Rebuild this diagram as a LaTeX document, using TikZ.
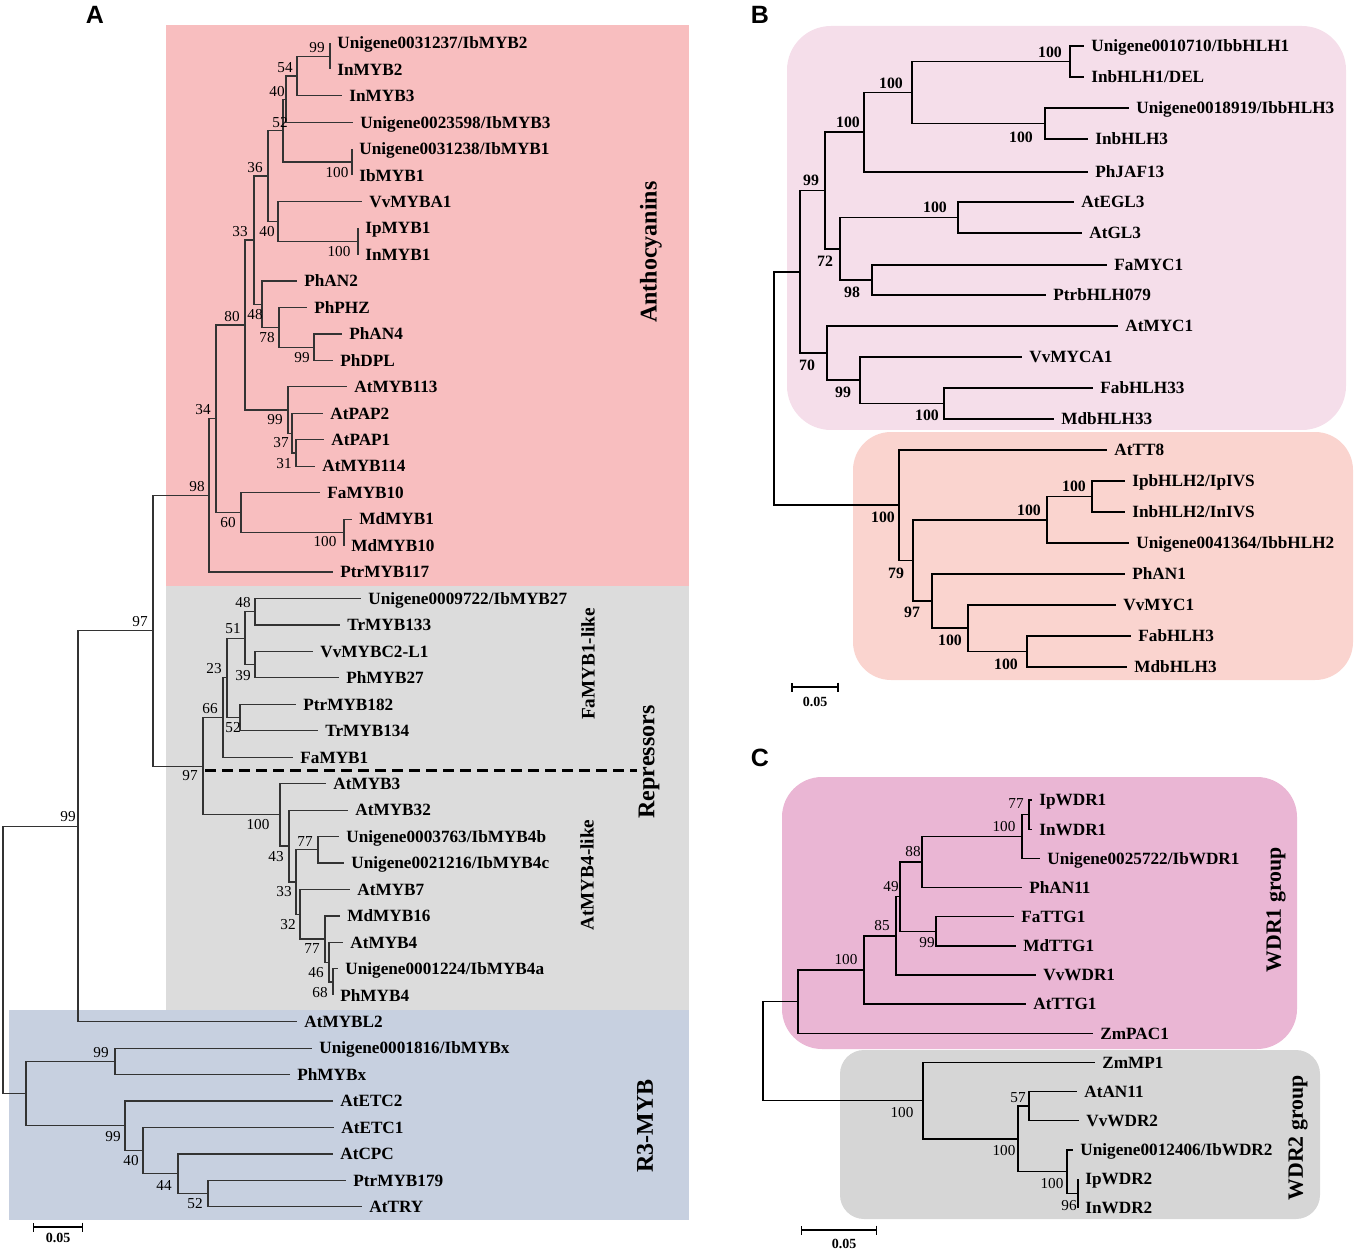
\documentclass[tikz,border=0pt]{standalone}
\usepackage{fontspec}
\setmainfont{Liberation Serif}
\newfontfamily\panelfont{Liberation Sans}
\usetikzlibrary{arrows.meta}

\definecolor{anthopink}{RGB}{248,190,191}
\definecolor{represgrey}{RGB}{220,220,220}
\definecolor{rthreeblue}{RGB}{199,208,224}
\definecolor{bhlhpink}{RGB}{245,222,234}
\definecolor{bhlhsalmon}{RGB}{250,212,207}
\definecolor{wdrpink}{RGB}{234,182,212}
\definecolor{wdrgrey}{RGB}{214,214,214}

\begin{document}
\begin{tikzpicture}[x=0.5pt,y=-0.5pt,
    br/.style={line width=0.6pt,draw=black!80},
    brB/.style={line width=0.9pt},
    brC/.style={line width=0.7pt},
    leaf/.style={anchor=west,inner xsep=3.5pt,inner ysep=0pt,text height=5.8pt,text depth=0pt,
      font=\bfseries\fontsize{8.6}{9}\selectfont},
    bs/.style={inner sep=0pt,font=\fontsize{7.6}{8}\selectfont},
    bsB/.style={inner sep=0pt,font=\bfseries\fontsize{7.9}{8}\selectfont},
    group/.style={rotate=90,inner sep=0pt,font=\bfseries\fontsize{12}{12}\selectfont},
    subgroup/.style={rotate=90,inner sep=0pt,font=\bfseries\fontsize{9.6}{10}\selectfont},
    wgroup/.style={rotate=90,inner sep=0pt,font=\bfseries\fontsize{10.9}{11}\selectfont},
    panel/.style={inner sep=0pt,font=\panelfont\bfseries\fontsize{12.5}{13}\selectfont},
    scalebar/.style={line width=0.6pt,{Bar[width=4.5pt]}-{Bar[width=4.5pt]}},
    scalelbl/.style={inner sep=0pt,font=\bfseries\fontsize{7}{7}\selectfont}]
    \useasboundingbox (0,0) rectangle (1354,1251);

    % panel A: MYB
    \fill[anthopink] (166,25) rectangle (689,586);
    \fill[represgrey] (166,586) rectangle (689,1010);
    \fill[rthreeblue] (9,1010) rectangle (689,1220);
    \node[panel] (pA) at (95,15) {A};

    \node[leaf] (uIbMYB2) at (330,43) {Unigene0031237/IbMYB2};
    \node[leaf] (InMYB2) at (330,69.5) {InMYB2};
    \node[leaf] (InMYB3) at (342,95.9) {InMYB3};
    \node[leaf] (uIbMYB3) at (353,122.4) {Unigene0023598/IbMYB3};
    \node[leaf] (uIbMYB1) at (352,148.8) {Unigene0031238/IbMYB1};
    \node[leaf] (IbMYB1) at (352,175.3) {IbMYB1};
    \node[leaf] (VvMYBA1) at (362,201.7) {VvMYBA1};
    \node[leaf] (IpMYB1) at (358,228.2) {IpMYB1};
    \node[leaf] (InMYB1) at (358,254.6) {InMYB1};
    \node[leaf] (PhAN2) at (297,281.1) {PhAN2};
    \node[leaf] (PhPHZ) at (307,307.5) {PhPHZ};
    \node[leaf] (PhAN4) at (342,334) {PhAN4};
    \node[leaf] (PhDPL) at (333,360.4) {PhDPL};
    \node[leaf] (AtMYB113) at (347,386.9) {AtMYB113};
    \node[leaf] (AtPAP2) at (323,413.3) {AtPAP2};
    \node[leaf] (AtPAP1) at (324,439.8) {AtPAP1};
    \node[leaf] (AtMYB114) at (315,466.2) {AtMYB114};
    \node[leaf] (FaMYB10) at (320,492.7) {FaMYB10};
    \node[leaf] (MdMYB1) at (352,519.1) {MdMYB1};
    \node[leaf] (MdMYB10) at (344,545.6) {MdMYB10};
    \node[leaf] (PtrMYB117) at (333,572) {PtrMYB117};
    \node[leaf] (uIbMYB27) at (361,598.5) {Unigene0009722/IbMYB27};
    \node[leaf] (TrMYB133) at (340,624.9) {TrMYB133};
    \node[leaf] (VvMYBC2L1) at (313,651.4) {VvMYBC2-L1};
    \node[leaf] (PhMYB27) at (339,677.8) {PhMYB27};
    \node[leaf] (PtrMYB182) at (296,704.3) {PtrMYB182};
    \node[leaf] (TrMYB134) at (318,730.7) {TrMYB134};
    \node[leaf] (FaMYB1) at (293,757.2) {FaMYB1};
    \node[leaf] (AtMYB3) at (326,783.6) {AtMYB3};
    \node[leaf] (AtMYB32) at (348,810.1) {AtMYB32};
    \node[leaf] (uIbMYB4b) at (339,836.5) {Unigene0003763/IbMYB4b};
    \node[leaf] (uIbMYB4c) at (344,863) {Unigene0021216/IbMYB4c};
    \node[leaf] (AtMYB7) at (350,889.4) {AtMYB7};
    \node[leaf] (MdMYB16) at (340,915.9) {MdMYB16};
    \node[leaf] (AtMYB4) at (343,942.3) {AtMYB4};
    \node[leaf] (uIbMYB4a) at (338,968.8) {Unigene0001224/IbMYB4a};
    \node[leaf] (PhMYB4) at (333,995.2) {PhMYB4};
    \node[leaf] (AtMYBL2) at (297,1021.7) {AtMYBL2};
    \node[leaf] (uIbMYBx) at (312,1048.1) {Unigene0001816/IbMYBx};
    \node[leaf] (PhMYBx) at (290,1074.6) {PhMYBx};
    \node[leaf] (AtETC2) at (333,1101) {AtETC2};
    \node[leaf] (AtETC1) at (334,1127.5) {AtETC1};
    \node[leaf] (AtCPC) at (333,1153.9) {AtCPC};
    \node[leaf] (PtrMYB179) at (346,1180.4) {PtrMYB179};
    \node[leaf] (AtTRY) at (362,1206.8) {AtTRY};

    \coordinate (a99) at (330,56.2);
    \coordinate (a54) at (297,76.1);
    \coordinate (a40) at (286,99.2);
    \coordinate (a100b) at (352,162);
    \coordinate (a52) at (283,130.6);
    \coordinate (a100c) at (358,241.4);
    \coordinate (a40b) at (278,221.6);
    \coordinate (a36) at (268,176.1);
    \coordinate (a99b) at (314,347.2);
    \coordinate (a78) at (279,327.3);
    \coordinate (a48) at (262,304.2);
    \coordinate (a33) at (254,240.1);
    \coordinate (a31) at (296,453);
    \coordinate (a37) at (292,433.1);
    \coordinate (a99c) at (288,410);
    \coordinate (a80) at (245,325);
    \coordinate (a100d) at (344,532.3);
    \coordinate (a60) at (241,512.5);
    \coordinate (a34) at (216,418.8);
    \coordinate (a98) at (209,495.4);
    \coordinate (a48r) at (255,611.7);
    \coordinate (a39) at (255,664.6);
    \coordinate (a51) at (245,638.1);
    \coordinate (a52r) at (240,717.5);
    \coordinate (a23) at (227,677.8);
    \coordinate (a66) at (223,717.5);
    \coordinate (a77a) at (318,849.7);
    \coordinate (a68) at (333,982);
    \coordinate (a46) at (329,962.1);
    \coordinate (a77b) at (325,939);
    \coordinate (a32) at (300,914.2);
    \coordinate (a33r) at (296,882);
    \coordinate (a43) at (289,846);
    \coordinate (a100r) at (280,814.8);
    \coordinate (a97b) at (203,766.2);
    \coordinate (a97t) at (153,630.8);
    \coordinate (a99r) at (78,826.2);
    \coordinate (r99) at (115,1061.3);
    \coordinate (r52) at (208,1193.6);
    \coordinate (r44) at (178,1173.7);
    \coordinate (r40) at (143,1150.6);
    \coordinate (r99b) at (125,1125.8);
    \coordinate (r0) at (26,1093.6);
    \coordinate (aroot) at (3,960);

    \draw[br] (a99) |- (uIbMYB2) (a99) |- (InMYB2);
    \draw[br] (a54) |- (a99) (a54) |- (InMYB3);
    \draw[br] (a40) |- (a54) (a40) |- (uIbMYB3);
    \draw[br] (a100b) |- (uIbMYB1) (a100b) |- (IbMYB1);
    \draw[br] (a52) |- (a40) (a52) |- (a100b);
    \draw[br] (a100c) |- (IpMYB1) (a100c) |- (InMYB1);
    \draw[br] (a40b) |- (VvMYBA1) (a40b) |- (a100c);
    \draw[br] (a36) |- (a52) (a36) |- (a40b);
    \draw[br] (a99b) |- (PhAN4) (a99b) |- (PhDPL);
    \draw[br] (a78) |- (PhPHZ) (a78) |- (a99b);
    \draw[br] (a48) |- (PhAN2) (a48) |- (a78);
    \draw[br] (a33) |- (a36) (a33) |- (a48);
    \draw[br] (a31) |- (AtPAP1) (a31) |- (AtMYB114);
    \draw[br] (a37) |- (AtPAP2) (a37) |- (a31);
    \draw[br] (a99c) |- (AtMYB113) (a99c) |- (a37);
    \draw[br] (a80) |- (a33) (a80) |- (a99c);
    \draw[br] (a100d) |- (MdMYB1) (a100d) |- (MdMYB10);
    \draw[br] (a60) |- (FaMYB10) (a60) |- (a100d);
    \draw[br] (a34) |- (a80) (a34) |- (a60);
    \draw[br] (a98) |- (a34) (a98) |- (PtrMYB117);
    \draw[br] (a48r) |- (uIbMYB27) (a48r) |- (TrMYB133);
    \draw[br] (a39) |- (VvMYBC2L1) (a39) |- (PhMYB27);
    \draw[br] (a51) |- (a48r) (a51) |- (a39);
    \draw[br] (a52r) |- (PtrMYB182) (a52r) |- (TrMYB134);
    \draw[br] (a23) |- (a51) (a23) |- (a52r);
    \draw[br] (a66) |- (a23) (a66) |- (FaMYB1);
    \draw[br] (a77a) |- (uIbMYB4b) (a77a) |- (uIbMYB4c);
    \draw[br] (a68) |- (uIbMYB4a) (a68) |- (PhMYB4);
    \draw[br] (a46) |- (AtMYB4) (a46) |- (a68);
    \draw[br] (a77b) |- (MdMYB16) (a77b) |- (a46);
    \draw[br] (a32) |- (AtMYB7) (a32) |- (a77b);
    \draw[br] (a33r) |- (a77a) (a33r) |- (a32);
    \draw[br] (a43) |- (AtMYB32) (a43) |- (a33r);
    \draw[br] (a100r) |- (AtMYB3) (a100r) |- (a43);
    \draw[br] (a97b) |- (a66) (a97b) |- (a100r);
    \draw[br] (a97t) |- (a98) (a97t) |- (a97b);
    \draw[br] (a99r) |- (a97t) (a99r) |- (AtMYBL2);
    \draw[br] (r99) |- (uIbMYBx) (r99) |- (PhMYBx);
    \draw[br] (r52) |- (PtrMYB179) (r52) |- (AtTRY);
    \draw[br] (r44) |- (AtCPC) (r44) |- (r52);
    \draw[br] (r40) |- (AtETC1) (r40) |- (r44);
    \draw[br] (r99b) |- (AtETC2) (r99b) |- (r40);
    \draw[br] (r0) |- (r99) (r0) |- (r99b);
    \draw[br] (aroot) |- (a99r) (aroot) |- (r0);

    \node[bs] (ba99) at (317,48) {99};
    \node[bs] (ba54) at (285,68) {54};
    \node[bs] (ba40) at (277,92) {40};
    \node[bs] (ba52) at (280,123) {52};
    \node[bs] (ba100b) at (337,173) {100};
    \node[bs] (ba36) at (255,168) {36};
    \node[bs] (ba40b) at (267,232) {40};
    \node[bs] (ba33) at (240,232) {33};
    \node[bs] (ba100c) at (339,252) {100};
    \node[bs] (ba48) at (255,315) {48};
    \node[bs] (ba78) at (267,338) {78};
    \node[bs] (ba99b) at (302,358) {99};
    \node[bs] (ba80) at (232,317) {80};
    \node[bs] (ba99c) at (275,420) {99};
    \node[bs] (ba37) at (281,443) {37};
    \node[bs] (ba31) at (284,464) {31};
    \node[bs] (ba34) at (203,410) {34};
    \node[bs] (ba98) at (197,487) {98};
    \node[bs] (ba60) at (228,523) {60};
    \node[bs] (ba100d) at (325,542) {100};
    \node[bs] (ba48r) at (243,603) {48};
    \node[bs] (ba51) at (233,629) {51};
    \node[bs] (ba23) at (214,669) {23};
    \node[bs] (ba39) at (243,676) {39};
    \node[bs] (ba66) at (210,709) {66};
    \node[bs] (ba52r) at (233,728) {52};
    \node[bs] (ba97b) at (190,776) {97};
    \node[bs] (ba97t) at (140,622) {97};
    \node[bs] (ba100r) at (258,825) {100};
    \node[bs] (ba77a) at (305,842) {77};
    \node[bs] (ba43) at (276,857) {43};
    \node[bs] (ba33r) at (284,892) {33};
    \node[bs] (ba32) at (288,925) {32};
    \node[bs] (ba77b) at (312,949) {77};
    \node[bs] (ba46) at (316,973) {46};
    \node[bs] (ba68) at (320,993) {68};
    \node[bs] (ba99r) at (68,817) {99};
    \node[bs] (br99) at (101,1053) {99};
    \node[bs] (br99b) at (113,1137) {99};
    \node[bs] (br40) at (131,1161) {40};
    \node[bs] (br44) at (164,1185) {44};
    \node[bs] (br52) at (195,1204) {52};

    \draw[line width=1.5pt,dash pattern=on 5.5pt off 3pt] (205,770) coordinate (dashl) -- (637,770) coordinate (dashr);
    \node[group] (gAntho) at (651,252) {Anthocyanins};
    \node[subgroup] (gFaMYB) at (588,664) {FaMYB1-like};
    \node[group] (gRep) at (649,762) {Repressors};
    \node[subgroup] (gAtMYB) at (587,875) {AtMYB4-like};
    \node[group] (gR3) at (645,1126) {R3-MYB};

    \coordinate (sbAl) at (33,1227);
    \coordinate (sbAr) at (83,1227);
    \draw[scalebar] (sbAl) -- (sbAr);
    \node[scalelbl] (sbAt) at (58,1238) {0.05};

    % panel B: bHLH
    \fill[bhlhpink,rounded corners=22pt] (787,26) rectangle (1346,430);
    \fill[bhlhsalmon,rounded corners=19pt] (853,432) rectangle (1353,680);
    \node[panel] (pB) at (760,15) {B};

    \node[leaf] (uIbbHLH1) at (1084,46) {Unigene0010710/IbbHLH1};
    \node[leaf] (InbHLH1) at (1084,77) {InbHLH1/DEL};
    \node[leaf] (uIbbHLH3) at (1129,108) {Unigene0018919/IbbHLH3};
    \node[leaf] (InbHLH3) at (1088,139) {InbHLH3};
    \node[leaf] (PhJAF13) at (1088,172) {PhJAF13};
    \node[leaf] (AtEGL3) at (1074,202) {AtEGL3};
    \node[leaf] (AtGL3) at (1082,233) {AtGL3};
    \node[leaf] (FaMYC1) at (1107,265) {FaMYC1};
    \node[leaf] (PtrbHLH079) at (1046,295) {PtrbHLH079};
    \node[leaf] (AtMYC1) at (1118,326) {AtMYC1};
    \node[leaf] (VvMYCA1) at (1022,357) {VvMYCA1};
    \node[leaf] (FabHLH33) at (1093,388) {FabHLH33};
    \node[leaf] (MdbHLH33) at (1054,419) {MdbHLH33};
    \node[leaf] (AtTT8) at (1107,450) {AtTT8};
    \node[leaf] (IpbHLH2) at (1125,481) {IpbHLH2/IpIVS};
    \node[leaf] (InbHLH2) at (1125,512) {InbHLH2/InIVS};
    \node[leaf] (uIbbHLH2) at (1129,543) {Unigene0041364/IbbHLH2};
    \node[leaf] (PhAN1) at (1125,574) {PhAN1};
    \node[leaf] (VvMYC1) at (1116,605) {VvMYC1};
    \node[leaf] (FabHLH3) at (1131,636) {FabHLH3};
    \node[leaf] (MdbHLH3) at (1127,667) {MdbHLH3};

    \coordinate (b100a) at (1070,61.5);
    \coordinate (b100c) at (1045,123.5);
    \coordinate (b100b) at (912,92.5);
    \coordinate (b100d) at (864,132.3);
    \coordinate (b100e) at (958,217.5);
    \coordinate (b98) at (872,280);
    \coordinate (b72) at (840,248.8);
    \coordinate (b99) at (825,190.5);
    \coordinate (b100f) at (944,403.5);
    \coordinate (b99b) at (860,380.3);
    \coordinate (b70) at (827,353.1);
    \coordinate (bpink) at (800,271.8);
    \coordinate (b100i) at (1092,496.5);
    \coordinate (b100h) at (1047,519.8);
    \coordinate (b100k) at (1027,651.5);
    \coordinate (b100j) at (968,628.3);
    \coordinate (b97) at (932,601.1);
    \coordinate (b79) at (913,560.4);
    \coordinate (b100g) at (899,505.2);
    \coordinate (broot) at (774,388);

    \draw[brB] (b100a) |- (uIbbHLH1) (b100a) |- (InbHLH1);
    \draw[brB] (b100c) |- (uIbbHLH3) (b100c) |- (InbHLH3);
    \draw[brB] (b100b) |- (b100a) (b100b) |- (b100c);
    \draw[brB] (b100d) |- (b100b) (b100d) |- (PhJAF13);
    \draw[brB] (b100e) |- (AtEGL3) (b100e) |- (AtGL3);
    \draw[brB] (b98) |- (FaMYC1) (b98) |- (PtrbHLH079);
    \draw[brB] (b72) |- (b100e) (b72) |- (b98);
    \draw[brB] (b99) |- (b100d) (b99) |- (b72);
    \draw[brB] (b100f) |- (FabHLH33) (b100f) |- (MdbHLH33);
    \draw[brB] (b99b) |- (VvMYCA1) (b99b) |- (b100f);
    \draw[brB] (b70) |- (AtMYC1) (b70) |- (b99b);
    \draw[brB] (bpink) |- (b99) (bpink) |- (b70);
    \draw[brB] (b100i) |- (IpbHLH2) (b100i) |- (InbHLH2);
    \draw[brB] (b100h) |- (b100i) (b100h) |- (uIbbHLH2);
    \draw[brB] (b100k) |- (FabHLH3) (b100k) |- (MdbHLH3);
    \draw[brB] (b100j) |- (VvMYC1) (b100j) |- (b100k);
    \draw[brB] (b97) |- (PhAN1) (b97) |- (b100j);
    \draw[brB] (b79) |- (b100h) (b79) |- (b97);
    \draw[brB] (b100g) |- (AtTT8) (b100g) |- (b79);
    \draw[brB] (broot) |- (bpink) (broot) |- (b100g);

    \node[bsB] (bb100a) at (1050,52) {100};
    \node[bsB] (bb100c) at (1021,137) {100};
    \node[bsB] (bb100b) at (891,83) {100};
    \node[bsB] (bb100d) at (848,122) {100};
    \node[bsB] (bb99) at (811,180) {99};
    \node[bsB] (bb100e) at (935,207) {100};
    \node[bsB] (bb72) at (825,261) {72};
    \node[bsB] (bb98) at (852,292) {98};
    \node[bsB] (bb70) at (807,365) {70};
    \node[bsB] (bb99b) at (843,392) {99};
    \node[bsB] (bb100f) at (927,415) {100};
    \node[bsB] (bb100i) at (1074,486) {100};
    \node[bsB] (bb100h) at (1029,510) {100};
    \node[bsB] (bb100g) at (883,517) {100};
    \node[bsB] (bb79) at (896,573) {79};
    \node[bsB] (bb97) at (912,612) {97};
    \node[bsB] (bb100j) at (950,640) {100};
    \node[bsB] (bb100k) at (1006,664) {100};

    \coordinate (sbBl) at (791,687);
    \coordinate (sbBr) at (839,687);
    \draw[scalebar,line width=0.9pt] (sbBl) -- (sbBr);
    \node[scalelbl] (sbBt) at (815,702) {0.05};

    % panel C: WDR
    \fill[wdrpink,rounded corners=20pt] (782,777) rectangle (1297,1049);
    \fill[wdrgrey,rounded corners=12pt] (840,1050) rectangle (1320,1219);
    \node[panel] (pC) at (760,758) {C};

    \node[leaf] (IpWDR1) at (1032,800) {IpWDR1};
    \node[leaf] (InWDR1) at (1032,829.2) {InWDR1};
    \node[leaf] (uIbWDR1) at (1040,858.3) {Unigene0025722/IbWDR1};
    \node[leaf] (PhAN11) at (1022,887.5) {PhAN11};
    \node[leaf] (FaTTG1) at (1014,916.6) {FaTTG1};
    \node[leaf] (MdTTG1) at (1016,945.8) {MdTTG1};
    \node[leaf] (VvWDR1) at (1036,974.9) {VvWDR1};
    \node[leaf] (AtTTG1) at (1026,1004.1) {AtTTG1};
    \node[leaf] (ZmPAC1) at (1093,1033.2) {ZmPAC1};
    \node[leaf] (ZmMP1) at (1095,1062.4) {ZmMP1};
    \node[leaf] (AtAN11) at (1077,1091.5) {AtAN11};
    \node[leaf] (VvWDR2) at (1079,1120.7) {VvWDR2};
    \node[leaf] (uIbWDR2) at (1073,1149.8) {Unigene0012406/IbWDR2};
    \node[leaf] (IpWDR2) at (1078,1179) {IpWDR2};
    \node[leaf] (InWDR2) at (1078,1208.1) {InWDR2};

    \coordinate (c77) at (1029,814.6);
    \coordinate (c100a) at (1022,836.5);
    \coordinate (c88) at (922,862);
    \coordinate (c99) at (936,931.2);
    \coordinate (c49) at (900,896.6);
    \coordinate (c85) at (896,935.8);
    \coordinate (c100) at (864,969.9);
    \coordinate (cwone) at (798,1001.6);
    \coordinate (c57) at (1029,1106.1);
    \coordinate (c96) at (1078,1193.5);
    \coordinate (c100c) at (1067,1171.7);
    \coordinate (c100b) at (1018,1138.9);
    \coordinate (c100w) at (923,1100.6);
    \coordinate (croot) at (763,1051);

    \draw[brC] (c77) |- (IpWDR1) (c77) |- (InWDR1);
    \draw[brC] (c100a) |- (c77) (c100a) |- (uIbWDR1);
    \draw[brC] (c88) |- (c100a) (c88) |- (PhAN11);
    \draw[brC] (c99) |- (FaTTG1) (c99) |- (MdTTG1);
    \draw[brC] (c49) |- (c88) (c49) |- (c99);
    \draw[brC] (c85) |- (c49) (c85) |- (VvWDR1);
    \draw[brC] (c100) |- (c85) (c100) |- (AtTTG1);
    \draw[brC] (cwone) |- (c100) (cwone) |- (ZmPAC1);
    \draw[brC] (c57) |- (AtAN11) (c57) |- (VvWDR2);
    \draw[brC] (c96) |- (IpWDR2) (c96) |- (InWDR2);
    \draw[brC] (c100c) |- (uIbWDR2) (c100c) |- (c96);
    \draw[brC] (c100b) |- (c57) (c100b) |- (c100c);
    \draw[brC] (c100w) |- (ZmMP1) (c100w) |- (c100b);
    \draw[brC] (croot) |- (cwone) (croot) |- (c100w);

    \node[bs] (bc77) at (1016,804) {77};
    \node[bs] (bc100a) at (1004,827) {100};
    \node[bs] (bc88) at (913,852) {88};
    \node[bs] (bc49) at (891,887) {49};
    \node[bs] (bc85) at (882,926) {85};
    \node[bs] (bc99) at (927,943) {99};
    \node[bs] (bc100) at (846,960) {100};
    \node[bs] (bc57) at (1018,1098) {57};
    \node[bs] (bc100w) at (902,1113) {100};
    \node[bs] (bc100b) at (1004,1151) {100};
    \node[bs] (bc100c) at (1052,1184) {100};
    \node[bs] (bc96) at (1069,1206) {96};

    \node[wgroup] (gWDR1) at (1276,910) {WDR1 group};
    \node[wgroup] (gWDR2) at (1298,1138) {WDR2 group};

    \coordinate (sbCl) at (801,1230);
    \coordinate (sbCr) at (877,1230);
    \draw[scalebar] (sbCl) -- (sbCr);
    \node[scalelbl] (sbCt) at (844,1244) {0.05};
\end{tikzpicture}
\end{document}
